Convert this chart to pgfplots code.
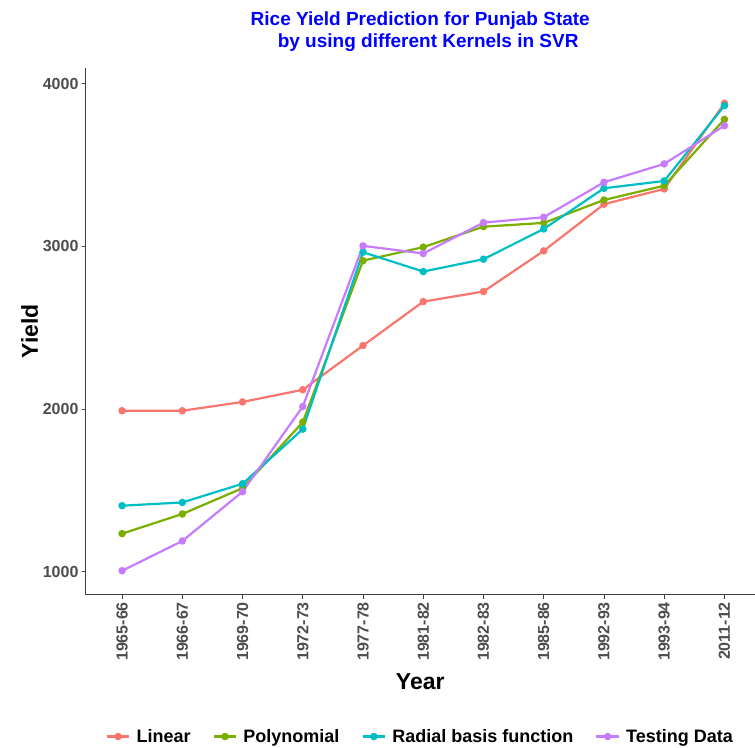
\documentclass[border=0pt]{standalone}
\usepackage{pgfplots}
\pgfplotsset{compat=1.18}
\usepackage{fontspec}
\setmainfont{Liberation Sans}
\definecolor{cLin}{HTML}{F8766D}
\definecolor{cPol}{HTML}{7CAE00}
\definecolor{cRbf}{HTML}{00BFC4}
\definecolor{cTst}{HTML}{C77CFF}
\definecolor{gtick}{HTML}{4D4D4D}
\begin{document}
\begin{tikzpicture}
\begin{axis}[
  scale only axis,
  width=669pt, height=527pt,
  xmin=-0.6, xmax=10.5,
  ymin=859, ymax=4098,
  axis x line*=bottom, axis y line*=left,
  axis line style={color=black!75, line width=0.9pt},
  tick style={color=black!75, line width=0.9pt},
  tick align=outside, major tick length=4pt,
  xtick={0,...,10},
  xticklabels={1965-66,1966-67,1969-70,1972-73,1977-78,1981-82,1982-83,1985-86,1992-93,1993-94,2011-12},
  xticklabel style={rotate=90, anchor=east, font=\fontsize{16}{18}\selectfont\bfseries, color=gtick},
  ytick={1000,2000,3000,4000},
  yticklabel style={font=\fontsize{16}{18}\selectfont\bfseries, color=gtick},
  /pgf/number format/assume math mode=true,
  /pgf/number format/1000 sep={},
  xlabel={Year}, ylabel={Yield},
  xlabel style={font=\fontsize{23}{26}\selectfont\bfseries, yshift=-6pt},
  ylabel style={font=\fontsize{23}{26}\selectfont\bfseries, yshift=-2pt},
  legend style={at={(0.5,-0.2694)}, anchor=center, draw=none, legend columns=-1,
    font=\fontsize{18}{21}\selectfont\bfseries,
    /tikz/every odd column/.append style={column sep=4pt},
    /tikz/every even column/.append style={column sep=20pt}},
  legend image code/.code={\draw[#1, mark repeat=2, mark phase=2] plot coordinates {(0cm,0cm) (0.4cm,0cm) (0.8cm,0cm)};},
  every axis plot/.append style={line width=2.2pt, mark=*, mark size=2.6pt},
  clip=false,
]
\addplot[color=cLin] coordinates {(0,1990)(1,1990)(2,2044)(3,2119)(4,2391)(5,2661)(6,2723)(7,2973)(8,3260)(9,3354)(10,3881)};
\addlegendentry{Linear}
\addplot[color=cPol] coordinates {(0,1234)(1,1355)(2,1514)(3,1920)(4,2913)(5,2996)(6,3122)(7,3145)(8,3286)(9,3374)(10,3782)};
\addlegendentry{Polynomial}
\addplot[color=cRbf] coordinates {(0,1406)(1,1426)(2,1541)(3,1877)(4,2965)(5,2846)(6,2922)(7,3108)(8,3358)(9,3403)(10,3866)};
\addlegendentry{Radial basis function}
\addplot[color=cTst] coordinates {(0,1006)(1,1189)(2,1492)(3,2016)(4,3004)(5,2957)(6,3147)(7,3180)(8,3395)(9,3508)(10,3743)};
\addlegendentry{Testing Data}
\node[align=center, font=\fontsize{19}{22}\selectfont\bfseries, color=blue, anchor=center]
  at (rel axis cs:0.5,1) [yshift=36pt] {Rice Yield Prediction for Punjab State\\\ \ \ by using different Kernels in SVR};
\end{axis}
\path[use as bounding box] (-86pt,-153pt) rectangle (669pt,595pt);
\end{tikzpicture}
\end{document}
